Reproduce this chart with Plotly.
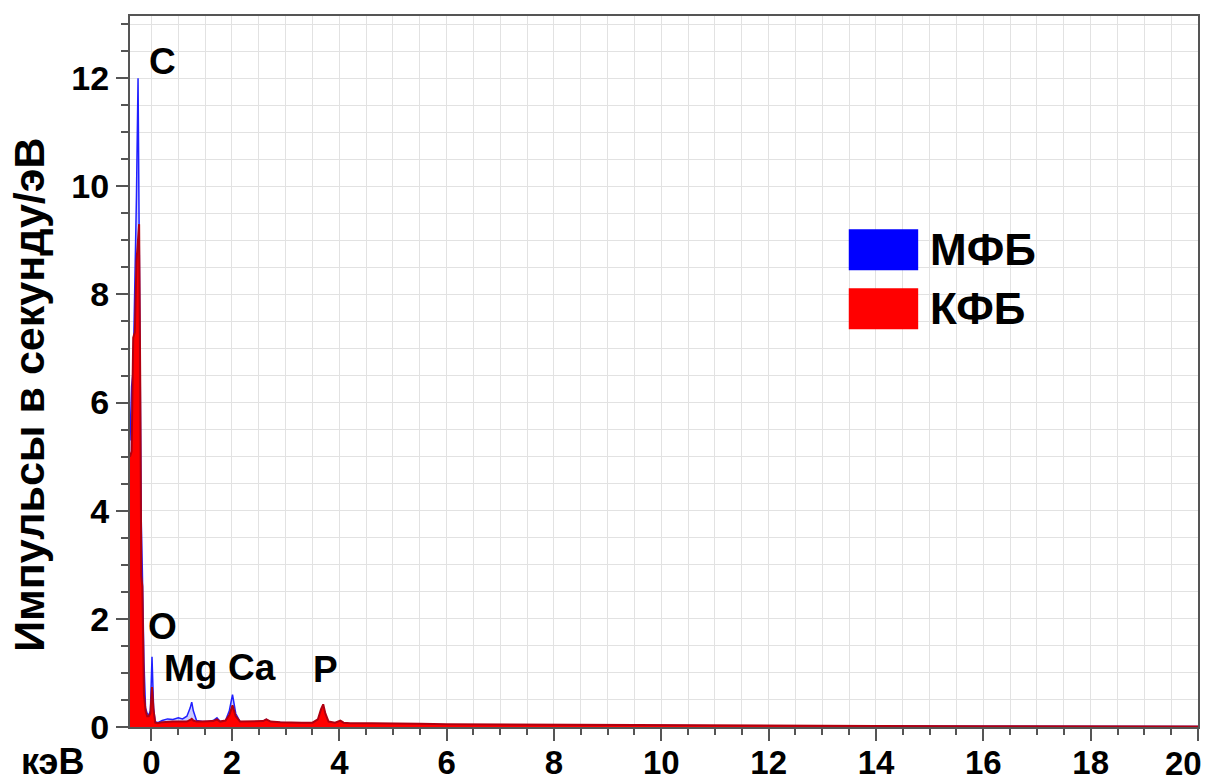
import plotly.graph_objects as go

# Energy (keV) sampled along the spectrum
energy = [0.10, 0.13, 0.16, 0.19, 0.22, 0.25, 0.27, 0.29, 0.31, 0.33, 0.36, 0.39, 0.42,
          0.45, 0.48, 0.51, 0.54, 0.57, 0.62, 0.70, 0.80, 0.90, 1.00, 1.08, 1.16, 1.22,
          1.25, 1.28, 1.34, 1.45, 1.55, 1.65, 1.72, 1.78, 1.88, 1.95, 2.01, 2.07, 2.15,
          2.30, 2.45, 2.58, 2.64, 2.72, 2.90, 3.10, 3.30, 3.50, 3.60, 3.66, 3.70, 3.74,
          3.80, 3.92, 4.02, 4.08, 4.20, 4.60, 5.00, 5.50, 6.00, 7.00, 8.00, 9.00, 10.00,
          11.00, 12.00, 14.00, 16.00, 18.00, 20.00]

# МФБ (blue)
mfb = [5.3, 6.3, 6.6, 8.0, 9.8, 12.0, 9.5, 6.0, 3.8, 2.9, 1.2, 0.35, 0.25,
       0.22, 0.3, 1.3, 0.35, 0.1, 0.08, 0.12, 0.15, 0.14, 0.17, 0.15, 0.2, 0.35,
       0.46, 0.3, 0.12, 0.1, 0.1, 0.12, 0.17, 0.1, 0.12, 0.3, 0.6, 0.25, 0.1,
       0.09, 0.09, 0.11, 0.14, 0.09, 0.08, 0.07, 0.07, 0.07, 0.12, 0.3, 0.38, 0.22,
       0.08, 0.07, 0.1, 0.07, 0.06, 0.06, 0.05, 0.05, 0.04, 0.04, 0.035, 0.03, 0.03,
       0.025, 0.02, 0.02, 0.015, 0.015, 0.01]

# КФБ (red)
kfb = [5.0, 5.1, 7.2, 7.3, 8.6, 9.0, 9.3, 6.5, 2.8, 2.6, 0.6, 0.3, 0.2,
       0.2, 0.25, 0.74, 0.3, 0.08, 0.07, 0.09, 0.1, 0.1, 0.1, 0.1, 0.1, 0.13,
       0.15, 0.12, 0.1, 0.1, 0.1, 0.11, 0.14, 0.1, 0.12, 0.22, 0.4, 0.2, 0.1,
       0.1, 0.1, 0.11, 0.14, 0.1, 0.09, 0.08, 0.08, 0.08, 0.14, 0.33, 0.42, 0.25,
       0.1, 0.08, 0.12, 0.08, 0.07, 0.07, 0.06, 0.06, 0.05, 0.045, 0.04, 0.035, 0.03,
       0.025, 0.02, 0.02, 0.015, 0.015, 0.01]

x_tickvals = [0.5, 2, 4, 6, 8, 10, 12, 14, 16, 18, 20]
x_ticktext = ["0", "2", "4", "6", "8", "10", "12", "14", "16", "18", ""]
x_last_label = "20"

peak_labels = ["C", "O", "Mg", "Ca", "P"]
peak_x = [0.70, 0.70, 1.22, 2.38, 3.75]
peak_y = [12.3, 1.86, 1.08, 1.10, 1.06]

series_names = ["МФБ", "КФБ"]
series_colors = ["#0000ff", "#ff0000"]

FONT = "Liberation Sans, Arial, sans-serif"

fig = go.Figure()
fig.add_trace(go.Scatter(x=energy, y=mfb, mode="lines", fill="tozeroy",
                         line=dict(color="#2020ff", width=1.5),
                         fillcolor="rgba(110,110,255,0.35)", name=series_names[0],
                         showlegend=False))
fig.add_trace(go.Scatter(x=energy, y=kfb, mode="lines", fill="tozeroy",
                         line=dict(color="#b00010", width=2),
                         fillcolor="#ff0000", name=series_names[1],
                         showlegend=False))

grid = "#e2e2e2"
axcol = "#555555"
fig.update_xaxes(range=[0.10, 20], tickvals=x_tickvals, ticktext=x_ticktext,
                 automargin=False, ticklabeloverflow="allow", ticklabelstandoff=-7,
                 ticks="outside", ticklen=12, tickwidth=2, tickcolor=axcol,
                 showline=True, linecolor=axcol, linewidth=2, mirror=True,
                 showgrid=True, gridcolor=grid, gridwidth=1, zeroline=False,
                 tickfont=dict(family=FONT, size=33, color="black", weight="bold"),
                 minor=dict(tick0=0, dtick=0.5, ticks="outside", ticklen=6,
                            tickwidth=1.5, tickcolor=axcol, showgrid=True,
                            gridcolor=grid, gridwidth=1))
fig.update_yaxes(range=[0, 13.15], tick0=0, dtick=2, automargin=False,
                 ticks="outside", ticklen=12, tickwidth=2, tickcolor=axcol,
                 showline=True, linecolor=axcol, linewidth=2, mirror=True,
                 showgrid=True, gridcolor=grid, gridwidth=1, zeroline=False,
                 tickfont=dict(family=FONT, size=34, color="black", weight="bold"),
                 minor=dict(tick0=0, dtick=0.5, ticks="outside", ticklen=7,
                            tickwidth=1.5, tickcolor=axcol, showgrid=True,
                            gridcolor=grid, gridwidth=1))

annotations = []
for lab, px, py in zip(peak_labels, peak_x, peak_y):
    annotations.append(dict(x=px, y=py, xref="x", yref="y", text=lab, showarrow=False,
                            font=dict(family=FONT, size=37, color="black", weight="bold")))

# last x tick label, kept inside the picture like in the reference
annotations.append(dict(x=0.986, y=-0.0514, xref="paper", yref="paper", text=x_last_label,
                        showarrow=False, xanchor="center", yanchor="middle",
                        font=dict(family=FONT, size=33, color="black", weight="bold")))

# legend
leg_y = [(0.6425, 0.700), (0.5595, 0.617)]
shapes = []
for (y0, y1), col, name in zip(leg_y, series_colors, series_names):
    shapes.append(dict(type="rect", xref="paper", yref="paper", x0=0.673, x1=0.738,
                       y0=y0, y1=y1, fillcolor=col, line=dict(width=0)))
    annotations.append(dict(x=0.747, y=(y0 + y1) / 2, xref="paper", yref="paper",
                            text=name, showarrow=False, xanchor="left", yanchor="middle",
                            font=dict(family=FONT, size=44, color="black", weight="bold")))

annotations.append(dict(x=-0.073, y=-0.048, xref="paper", yref="paper", text="кэВ",
                        showarrow=False, xanchor="center", yanchor="middle",
                        font=dict(family=FONT, size=36, color="black", weight="bold")))
annotations.append(dict(x=-0.094, y=0.4666, xref="paper", yref="paper",
                        text="Импульсы в секунду/эВ", textangle=-90, showarrow=False,
                        xanchor="center", yanchor="middle",
                        font=dict(family=FONT, size=43, color="black", weight="bold")))

fig.update_layout(width=1216, height=783, margin=dict(l=130, r=18, t=16, b=56),
                  plot_bgcolor="white", paper_bgcolor="white",
                  annotations=annotations, shapes=shapes, showlegend=False)

fig.write_html("out.html")
